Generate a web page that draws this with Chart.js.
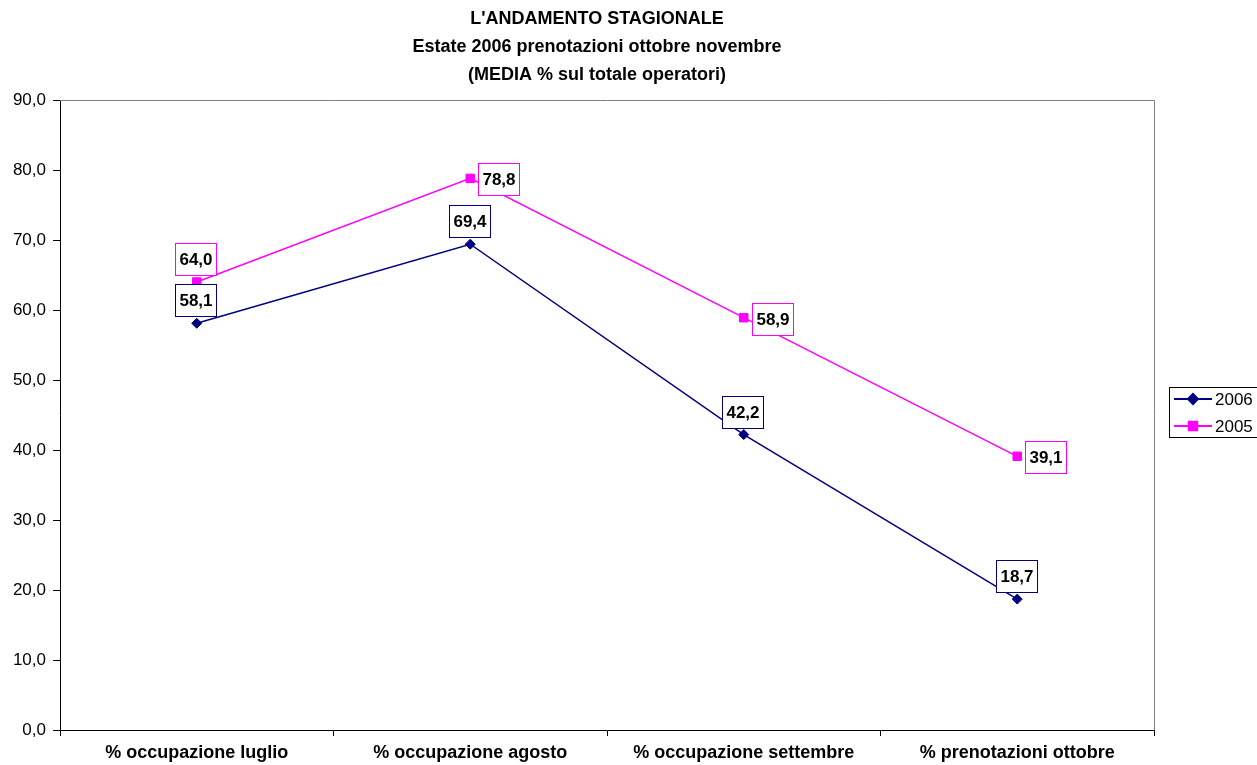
<!DOCTYPE html>
<html>
<head>
<meta charset="utf-8">
<script src="https://cdn.jsdelivr.net/npm/chart.js@4/dist/chart.umd.min.js"></script>
<style>
  html, body { margin: 0; padding: 0; background: #ffffff; }
  #wrap { width: 1257px; height: 765px; position: relative; }
</style>
</head>
<body>
<div id="wrap"><canvas id="c" width="1257" height="765"></canvas></div>
<script>
// Categories and series values
const categories = ['% occupazione luglio', '% occupazione agosto', '% occupazione settembre', '% prenotazioni ottobre'];
const values2006 = [58.1, 69.4, 42.2, 18.7];
const values2005 = [64.0, 78.8, 58.9, 39.1];
const seriesNames = ['2006', '2005'];
const titleLines = ["L'ANDAMENTO STAGIONALE", 'Estate 2006 prenotazioni ottobre novembre', '(MEDIA % sul totale operatori)'];

// Where each value box sits relative to its point
const labelPlacement2006 = ['above', 'above', 'above', 'above'];
const labelPlacement2005 = ['above', 'right', 'right', 'right'];

const NAVY = '#000080';
const MAGENTA = '#FF00FF';
const FONT = '"Liberation Sans", Arial, sans-serif';

const fmt = v => v.toFixed(1).replace('.', ',');

// Title, plot frame, value boxes and legend
const decorations = {
  id: 'decorations',
  beforeDatasetsDraw(chart) {
    const { ctx, chartArea: a } = chart;
    ctx.save();
    ctx.strokeStyle = '#808080';
    ctx.lineWidth = 1;
    ctx.beginPath();
    ctx.moveTo(a.left, a.top + 0.5);
    ctx.lineTo(a.right + 0.5, a.top + 0.5);
    ctx.lineTo(a.right + 0.5, a.bottom);
    ctx.stroke();
    ctx.restore();
  },
  afterDatasetsDraw(chart) {
    const { ctx } = chart;
    const placements = [labelPlacement2006, labelPlacement2005];
    const colors = [NAVY, MAGENTA];
    ctx.save();
    ctx.font = 'bold 17px ' + FONT;
    ctx.textAlign = 'center';
    ctx.textBaseline = 'middle';
    chart.data.datasets.forEach((ds, di) => {
      const meta = chart.getDatasetMeta(di);
      meta.data.forEach((pt, i) => {
        const text = fmt(ds.data[i]);
        const tw = ctx.measureText(text).width;
        const w = Math.round(tw + 8);
        const h = 32;
        let x, y;
        if (placements[di][i] === 'right') {
          x = Math.round(pt.x + 8);
          y = Math.round(pt.y - h / 2 + 1);
        } else {
          x = Math.round(pt.x - w / 2 - 1);
          y = Math.round(pt.y - 7 - h);
        }
        ctx.fillStyle = '#ffffff';
        ctx.fillRect(x, y, w, h);
        ctx.strokeStyle = colors[di];
        ctx.lineWidth = 1;
        ctx.strokeRect(x + 0.5, y + 0.5, w, h);
        ctx.fillStyle = '#000000';
        ctx.fillText(text, x + w / 2 + 0.5, y + h / 2 + 1);
      });
    });
    ctx.restore();
  },
  afterDraw(chart) {
    const { ctx } = chart;
    ctx.save();
    // Title
    ctx.fillStyle = '#000000';
    ctx.font = 'bold 18px ' + FONT;
    ctx.textAlign = 'center';
    ctx.textBaseline = 'middle';
    titleLines.forEach((t, i) => ctx.fillText(t, 597, 19 + i * 28));

    // Legend
    ctx.strokeStyle = '#000000';
    ctx.lineWidth = 1;
    ctx.strokeRect(1169.5, 387.5, 100, 50);
    const colors = [NAVY, MAGENTA];
    const styles = ['rectRot', 'rect'];
    const radii = [5, 6];
    chart.data.datasets.forEach((ds, i) => {
      const y = 399 + i * 27;
      ctx.strokeStyle = colors[i];
      ctx.lineWidth = 2;
      ctx.beginPath();
      ctx.moveTo(1174, y);
      ctx.lineTo(1212, y);
      ctx.stroke();
      ctx.fillStyle = colors[i];
      Chart.helpers.drawPoint(ctx, { pointStyle: styles[i], radius: radii[i], borderWidth: 1 }, 1193, y);
      ctx.fill();
      ctx.fillStyle = '#000000';
      ctx.font = '17px ' + FONT;
      ctx.textAlign = 'left';
      ctx.fillText(seriesNames[i], 1215, y + 1);
    });
    ctx.restore();
  }
};

new Chart(document.getElementById('c'), {
  type: 'line',
  data: {
    labels: categories,
    datasets: [
      {
        label: seriesNames[0],
        data: values2006,
        borderColor: NAVY,
        backgroundColor: NAVY,
        borderWidth: 1.5,
        pointStyle: 'rectRot',
        pointRadius: 5,
        pointBorderWidth: 1,
        tension: 0
      },
      {
        label: seriesNames[1],
        data: values2005,
        borderColor: MAGENTA,
        backgroundColor: MAGENTA,
        borderWidth: 1.5,
        pointStyle: 'rect',
        pointRadius: 6,
        pointBorderWidth: 1,
        tension: 0
      }
    ]
  },
  options: {
    responsive: false,
    animation: false,
    events: [],
    layout: { padding: { top: 100, right: 103, left: 0, bottom: 0 } },
    plugins: {
      legend: { display: false },
      title: { display: false },
      tooltip: { enabled: false }
    },
    scales: {
      x: {
        type: 'category',
        offset: true,
        grid: {
          offset: true,
          drawOnChartArea: false,
          drawTicks: true,
          tickLength: 6,
          tickColor: '#000000'
        },
        border: { color: '#000000', width: 1 },
        ticks: {
          color: '#000000',
          font: { family: FONT, size: 18, weight: 'bold' },
          padding: 6,
          maxRotation: 0,
          autoSkip: false
        },
        afterFit(scale) { scale.height = 35; }
      },
      y: {
        min: 0,
        max: 90,
        grid: {
          drawOnChartArea: false,
          drawTicks: true,
          tickLength: 7,
          tickColor: '#000000'
        },
        border: { color: '#000000', width: 1 },
        ticks: {
          stepSize: 10,
          color: '#000000',
          font: { family: FONT, size: 17 },
          padding: 7,
          callback: v => fmt(v)
        },
        afterFit(scale) { scale.width = 60; }
      }
    }
  },
  plugins: [decorations]
});
</script>
</body>
</html>
